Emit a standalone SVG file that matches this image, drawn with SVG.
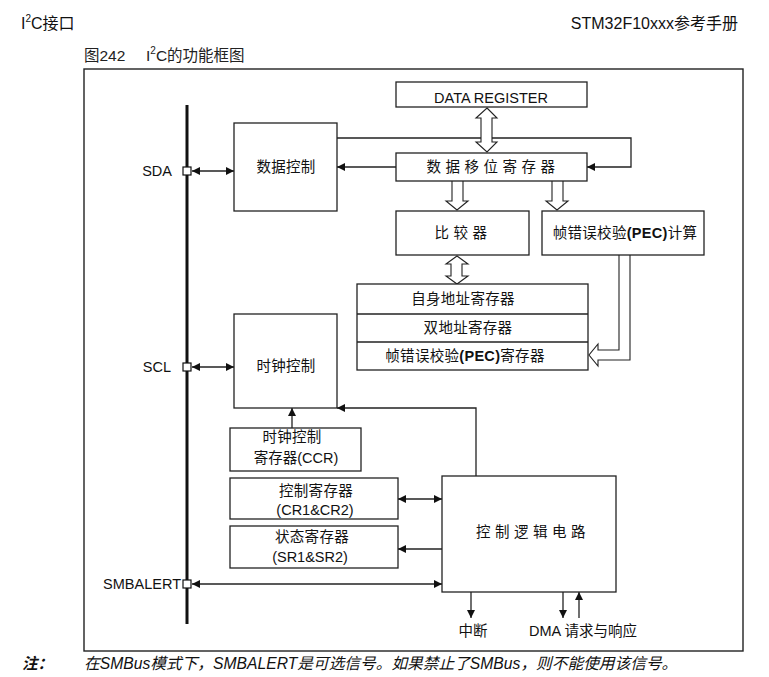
<svg xmlns="http://www.w3.org/2000/svg" width="769" height="677" viewBox="0 0 769 677">
<defs>
<style>
text{font-family:'Liberation Sans','Noto Sans CJK SC',sans-serif;font-size:14.5px;fill:#111}
.box{fill:#fff;stroke:#222;stroke-width:1.3}
.ln{fill:none;stroke:#222;stroke-width:1.3}
.hol{fill:#fff;stroke:#222;stroke-width:1.1;stroke-linejoin:miter}
.pin{fill:#fff;stroke:#111;stroke-width:1.2}
.mid{text-anchor:middle}
.hdr{font-size:16px}
.sp5{letter-spacing:4.5px}
.sp1{letter-spacing:0.3px}
</style>
<marker id="ah" viewBox="0 0 10 10" refX="10" refY="5" markerWidth="9" markerHeight="8" orient="auto-start-reverse" markerUnits="userSpaceOnUse">
<path d="M0,0 L10,5 L0,10 z" fill="#111"/>
</marker>
</defs>
<rect width="769" height="677" fill="#fff"/>

<g id="header">
<text class="hdr" x="21" y="29">I<tspan font-size="10" dy="-7">2</tspan><tspan dy="7">C接口</tspan></text>
<text class="hdr" x="738" y="29" text-anchor="end">STM32F10xxx参考手册</text>
<text x="84" y="61" style="font-size:15.5px;fill:#222">图242</text>
<text x="146" y="61" style="font-size:15.5px;fill:#222">I<tspan font-size="10" dy="-7">2</tspan><tspan dy="7">C的功能框图</tspan></text>
</g>

<rect id="frame" x="84" y="69" width="659" height="582" fill="none" stroke="#222" stroke-width="1.4"/>

<g id="bus">
<line x1="187" y1="105" x2="187" y2="624" stroke="#111" stroke-width="3"/>
</g>

<g id="connectors">
<line class="ln" x1="192" y1="171" x2="234" y2="171" marker-start="url(#ah)" marker-end="url(#ah)"/>
<line class="ln" x1="192" y1="367" x2="234" y2="367" marker-start="url(#ah)" marker-end="url(#ah)"/>
<line class="ln" x1="192" y1="584" x2="442" y2="584" marker-start="url(#ah)" marker-end="url(#ah)"/>
<polyline class="ln" points="337,138 631,138 631,167 587,167" marker-end="url(#ah)"/>
<line class="ln" x1="396" y1="167" x2="337" y2="167" marker-end="url(#ah)"/>
<polyline class="ln" points="476,476 476,408 337,408" marker-end="url(#ah)"/>
<line class="ln" x1="292" y1="428" x2="292" y2="408" marker-end="url(#ah)"/>
<line class="ln" x1="398" y1="499" x2="442" y2="499" marker-start="url(#ah)" marker-end="url(#ah)"/>
<line class="ln" x1="442" y1="549" x2="398" y2="549" marker-end="url(#ah)"/>
<line class="ln" x1="471" y1="592" x2="471" y2="618" marker-end="url(#ah)"/>
<line class="ln" x1="563" y1="592" x2="563" y2="618" marker-end="url(#ah)"/>
<line class="ln" x1="579" y1="618" x2="579" y2="592" marker-end="url(#ah)"/>
<polygon class="hol" points="487,108 497,118 492,118 492,142 497,142 487,152 476,142 481,142 481,118 476,118"/>
<polyline class="hol" points="452,181 452,201 446,201 457,210 468,201 463,201 463,181"/>
<polyline class="hol" points="552,181 552,201 546,201 557,210 568,201 563,201 563,181"/>
<polygon class="hol" points="457,256 468,264 462,264 462,276 468,276 457,284 446,276 451,276 451,264 446,264"/>
<polyline class="hol" points="619,255 619,350 598,350 598,344 589,355 598,366 598,360 630,360 630,255"/>
</g>

<g id="pins">
<rect class="pin" x="183" y="167" width="8" height="8"/>
<rect class="pin" x="183" y="363" width="8" height="8"/>
<rect class="pin" x="183" y="580" width="8" height="8"/>
<text x="172" y="176" text-anchor="end">SDA</text>
<text x="171" y="372" text-anchor="end">SCL</text>
<text x="181" y="589" text-anchor="end">SMBALERT</text>
</g>

<g id="data-control">
<rect class="box" x="234" y="123" width="103" height="88"/>
<text class="mid sp1" x="286" y="172">数据控制</text>
</g>

<g id="clock-control">
<rect class="box" x="234" y="314" width="103" height="94"/>
<text class="mid sp1" x="286" y="371">时钟控制</text>
</g>

<g id="data-register">
<rect class="box" x="396" y="82" width="191" height="25"/>
<text class="mid" x="491" y="103">DATA REGISTER</text>
</g>

<g id="shift-register">
<rect class="box" x="396" y="153" width="191" height="28"/>
<text class="mid sp5" x="493" y="172">数据移位寄存器</text>
</g>

<g id="comparator">
<rect class="box" x="396" y="211" width="133" height="44"/>
<text class="mid sp5" x="463" y="238">比较器</text>
</g>

<g id="pec-calc">
<rect class="box" x="542" y="211" width="162" height="44"/>
<text class="mid sp1" x="625" y="238">帧错误校验<tspan font-weight="bold">(PEC)</tspan>计算</text>
</g>

<g id="address-registers">
<rect class="box" x="357" y="284" width="231" height="86"/>
<line class="ln" x1="357" y1="314" x2="588" y2="314"/>
<line class="ln" x1="357" y1="342" x2="588" y2="342"/>
<text class="mid sp1" x="463" y="304">自身地址寄存器</text>
<text class="mid sp1" x="468" y="333">双地址寄存器</text>
<text class="mid sp1" x="465" y="361">帧错误校验<tspan font-weight="bold">(PEC)</tspan>寄存器</text>
</g>

<g id="ccr">
<rect class="box" x="230" y="428" width="131" height="43"/>
<text class="mid sp1" x="292" y="442">时钟控制</text>
<text class="mid" x="296" y="463">寄存器(CCR)</text>
</g>

<g id="cr">
<rect class="box" x="230" y="478" width="168" height="41"/>
<text class="mid sp1" x="316" y="496">控制寄存器</text>
<text class="mid" x="315" y="515">(CR1&amp;CR2)</text>
</g>

<g id="sr">
<rect class="box" x="230" y="526" width="168" height="42"/>
<text class="mid sp1" x="312" y="542">状态寄存器</text>
<text class="mid" x="310" y="562">(SR1&amp;SR2)</text>
</g>

<g id="control-logic">
<rect class="box" x="442" y="476" width="174" height="116"/>
<text class="mid sp5" x="533" y="537">控制逻辑电路</text>
</g>

<g id="outputs">
<text class="mid" x="473" y="636">中断</text>
<text x="529" y="636">DMA 请求与响应</text>
</g>

<g id="note">
<text x="22" y="669" style="font-size:15.5px;font-weight:bold;font-style:italic">注：</text>
<text x="84" y="669" style="font-size:15.7px;font-style:italic">在SMBus模式下，SMBALERT是可选信号。如果禁止了SMBus，则不能使用该信号。</text>
</g>
</svg>
